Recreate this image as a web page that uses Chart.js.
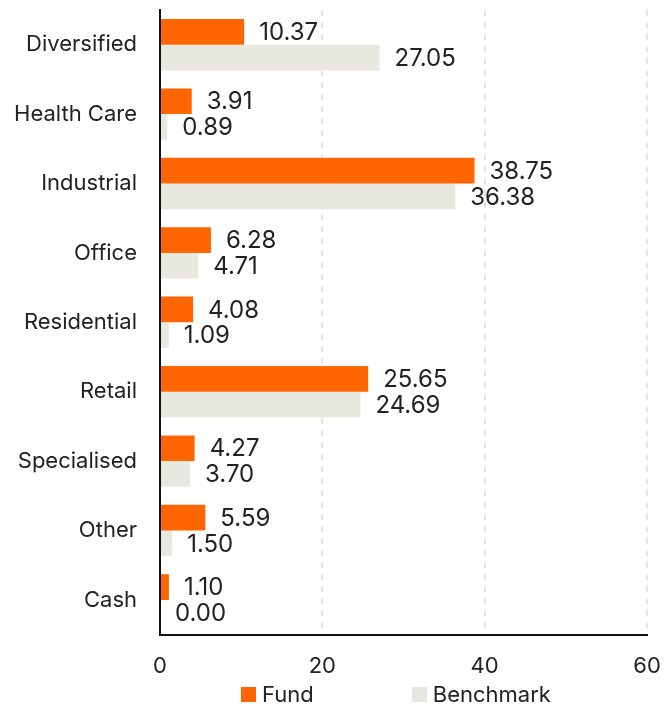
<!DOCTYPE html>
<html>
<head>
<meta charset="utf-8">
<script src="https://cdn.jsdelivr.net/npm/chart.js@4"></script>
<style>
  html, body { margin: 0; padding: 0; background: #fff; }
  #wrap { position: relative; width: 667px; height: 704px; }
  #legend {
    position: absolute; left: 241px; top: 680px;
    display: flex; gap: 98px; line-height: 28px;
    font-family: Inter, sans-serif; font-size: 22px; color: #222;
  }
  #legend span.item { display: flex; align-items: center; }
  #legend i { display: inline-block; width: 15px; height: 15px; margin-right: 6px; }
</style>
</head>
<body>
<div id="wrap">
  <canvas id="chart" width="667" height="704"></canvas>
  <div id="legend"></div>
</div>
<script>
const categories = ['Diversified', 'Health Care', 'Industrial', 'Office', 'Residential', 'Retail', 'Specialised', 'Other', 'Cash'];
const fundValues = [10.37, 3.91, 38.75, 6.28, 4.08, 25.65, 4.27, 5.59, 1.10];
const benchmarkValues = [27.05, 0.89, 36.38, 4.71, 1.09, 24.69, 3.70, 1.50, 0.00];
const xTicks = [0, 20, 40, 60];

const seriesNames = ['Fund', 'Benchmark'];
const seriesColors = ['#FF6600', '#E8E8E1'];

// etiquetas de valor depois de cada barra
const valueLabels = {
    id: 'valueLabels',
    afterDatasetsDraw(chart) {
        const ctx = chart.ctx;
        ctx.save();
        ctx.font = '24px Inter, sans-serif';
        ctx.fillStyle = '#222';
        ctx.textAlign = 'left';
        ctx.textBaseline = 'middle';
        chart.data.datasets.forEach((ds, i) => {
            chart.getDatasetMeta(i).data.forEach((bar, j) => {
                ctx.fillText(ds.data[j].toFixed(2), bar.x + 15, bar.y + 1);
            });
        });
        ctx.restore();
    }
};

const ctx = document.getElementById('chart');
new Chart(ctx, {
    type: 'bar',
    data: {
        labels: categories,
        datasets: [
            { label: seriesNames[0], data: fundValues, backgroundColor: seriesColors[0] },
            { label: seriesNames[1], data: benchmarkValues, backgroundColor: seriesColors[1] }
        ]
    },
    options: {
        indexAxis: 'y',
        responsive: false,
        animation: false,
        layout: { padding: { top: 10, right: 20, bottom: 5, left: 0 } },
        datasets: { bar: { categoryPercentage: 0.74, barPercentage: 1.0 } },
        plugins: { legend: { display: false }, tooltip: { enabled: false } },
        scales: {
            x: {
                min: 0, max: 60,
                afterBuildTicks: s => { s.ticks = xTicks.map(v => ({ value: v })); },
                afterFit: s => { s.paddingLeft = 0; s.paddingRight = 0; },
                grid: {
                    color: c => c.tick && c.tick.value === 0 ? 'rgba(0,0,0,0)' : '#e6e6e6',
                    lineWidth: 2,
                    drawTicks: false
                },
                border: { display: true, color: '#111', width: 2, dash: [6, 6] },
                ticks: { color: '#222', padding: 19, font: { family: 'Inter', size: 22 } }
            },
            y: {
                afterFit: s => { s.width = 160; s.paddingTop = 0; s.paddingBottom = 0; },
                border: { color: '#111', width: 2 },
                grid: { display: false, drawTicks: false },
                ticks: { color: '#222', padding: 23, font: { family: 'Inter', size: 22 } }
            }
        }
    },
    plugins: [valueLabels]
});

const legend = document.getElementById('legend');
seriesNames.forEach((n, i) => {
    const item = document.createElement('span');
    item.className = 'item';
    item.innerHTML = '<i style="background:' + seriesColors[i] + '"></i>' + n;
    legend.appendChild(item);
});
</script>
</body>
</html>
